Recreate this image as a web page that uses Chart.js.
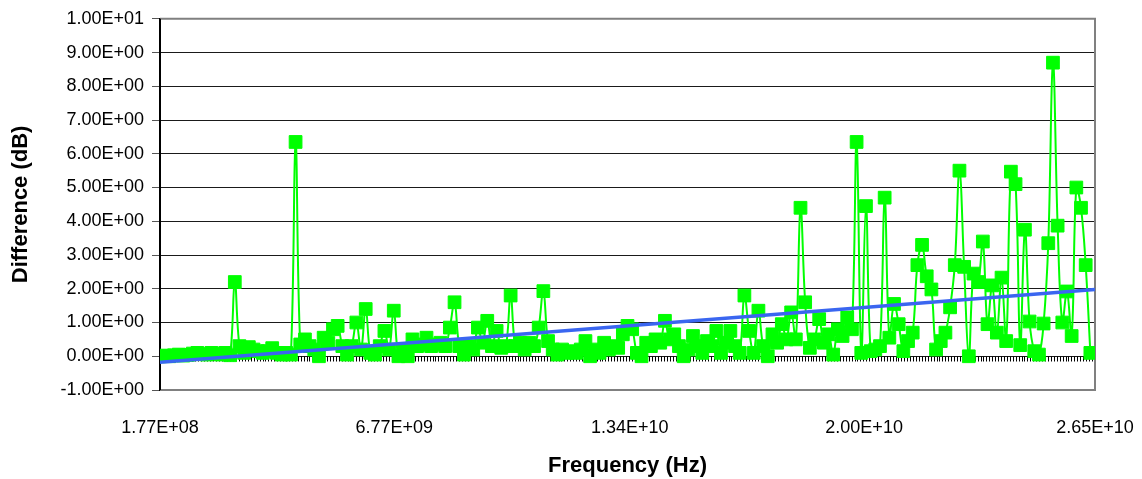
<!DOCTYPE html>
<html>
<head>
<meta charset="utf-8">
<script src="https://cdn.jsdelivr.net/npm/chart.js@4.4.1/dist/chart.umd.min.js"></script>
<style>
  html, body { margin: 0; padding: 0; background: #fff; }
  #wrap { width: 1142px; height: 479px; position: relative; }
</style>
</head>
<body>
<div id="wrap"><canvas id="chart"></canvas></div>
<script>
// sweep grid of the measurement (Hz)
const sweepStartHz = 1.77e8;
const sweepStepHz = 1.3162e8;

// difference per sweep point (dB)
const difference = [
  0.00, 0.02, 0.00, 0.03, 0.05, 0.02, 0.04, 0.08, 0.10, 0.06,
  0.05, 0.10, 0.08, 0.05, 0.10, 0.03, 2.20, 0.30, 0.10, 0.27,
  0.20, 0.15, 0.10, 0.15, 0.24, 0.10, 0.05, 0.10, 0.05, 6.35,
  0.35, 0.50, 0.30, 0.20, 0.00, 0.55, 0.40, 0.80, 0.90, 0.30,
  0.05, 0.30, 1.00, 0.20, 1.40, 0.10, 0.05, 0.30, 0.75, 0.20,
  1.35, 0.00, 0.20, 0.00, 0.50, 0.30, 0.35, 0.55, 0.30, 0.35,
  0.40, 0.30, 0.85, 1.60, 0.30, 0.05, 0.30, 0.20, 0.85, 0.40,
  1.05, 0.30, 0.75, 0.25, 0.30, 1.80, 0.30, 0.40, 0.20, 0.40,
  0.30, 0.85, 1.93, 0.45, 0.20, 0.05, 0.20, 0.10, 0.15, 0.10,
  0.20, 0.45, 0.00, 0.20, 0.10, 0.40, 0.20, 0.30, 0.25, 0.65,
  0.90, 0.80, 0.10, 0.00, 0.40, 0.30, 0.50, 0.40, 1.05, 0.50,
  0.65, 0.30, 0.00, 0.20, 0.60, 0.30, 0.10, 0.45, 0.30, 0.75,
  0.10, 0.40, 0.75, 0.30, 0.10, 1.80, 0.75, 0.10, 1.35, 0.30,
  0.00, 0.65, 0.40, 0.95, 0.50, 1.30, 0.50, 4.40, 1.60, 0.25,
  0.50, 1.10, 0.40, 0.65, 0.05, 0.80, 0.60, 1.15, 0.80, 6.35,
  0.10, 4.45, 0.15, 0.20, 0.30, 4.70, 0.55, 1.55, 0.95, 0.15,
  0.45, 0.70, 2.70, 3.30, 2.37, 1.98, 0.20, 0.45, 0.70, 1.45,
  2.70, 5.50, 2.65, 0.00, 2.45, 2.20, 3.40, 0.95, 2.10, 0.70,
  2.33, 0.45, 5.47, 5.10, 0.33, 3.75, 1.03, 0.15, 0.05, 0.97,
  3.35, 8.70, 3.87, 1.00, 1.92, 0.60, 5.00, 4.40, 2.70, 0.10
];

// linear trend line end points
const trendFreq = [1.77e8, 2.65e10];
const trendValue = [-0.18, 1.98];

// axis ticks
const xTickValues = [1.77e8, 6.77e9, 1.34e10, 2.00e10, 2.65e10];
const xTickLabels = ['1.77E+08', '6.77E+09', '1.34E+10', '2.00E+10', '2.65E+10'];
const minorTickStepHz = 8.25e7;

const FONT = "'Liberation Sans', Arial, sans-serif";

function sci(v) {
  const [m, e] = v.toExponential(2).split('e');
  const n = parseInt(e, 10);
  return m + 'E' + (n < 0 ? '-' : '+') + String(Math.abs(n)).padStart(2, '0');
}

const points = difference.map((d, i) => ({ x: sweepStartHz + i * sweepStepHz, y: d }));
const trend = trendFreq.map((f, i) => ({ x: f, y: trendValue[i] }));

// plot frame + minor ticks along the zero line
const frame = {
  id: 'frame',
  beforeDatasetsDraw(chart) {
    const { ctx, chartArea: a, scales: { x, y } } = chart;
    ctx.save();
    const y0 = Math.round(y.getPixelForValue(0)) + 0.5;
    ctx.strokeStyle = '#000';
    ctx.lineWidth = 1;
    ctx.beginPath();
    for (let f = x.min; f <= x.max; f += minorTickStepHz) {
      const px = Math.round(x.getPixelForValue(f)) + 0.5;
      ctx.moveTo(px, y0);
      ctx.lineTo(px, y0 + 5);
    }
    ctx.stroke();
    ctx.strokeStyle = '#808080';
    ctx.lineWidth = 2;
    ctx.beginPath();
    ctx.moveTo(a.left, a.top);
    ctx.lineTo(a.right, a.top);
    ctx.lineTo(a.right, a.bottom);
    ctx.lineTo(a.left, a.bottom);
    ctx.stroke();
    ctx.strokeStyle = '#000';
    ctx.beginPath();
    ctx.moveTo(a.left, a.top);
    ctx.lineTo(a.left, a.bottom);
    ctx.stroke();
    ctx.restore();
  }
};

new Chart(document.getElementById('chart'), {
  type: 'scatter',
  data: {
    datasets: [
      {
        label: 'Difference',
        data: points,
        showLine: true,
        tension: 0.4,
        borderColor: '#00ff00',
        borderWidth: 2,
        pointStyle: 'rect',
        pointRadius: 9,
        pointBackgroundColor: '#00ff00',
        pointBorderColor: '#00ff00',
        pointBorderWidth: 1,
        order: 1
      },
      {
        label: 'Trend',
        data: trend,
        showLine: true,
        borderColor: '#3a66f0',
        borderWidth: 3.5,
        pointRadius: 0,
        order: 0
      }
    ]
  },
  options: {
    responsive: true,
    maintainAspectRatio: false,
    animation: false,
    layout: { padding: { top: 18, right: 47, bottom: 0, left: 0 } },
    plugins: {
      legend: { display: false },
      tooltip: { enabled: false }
    },
    scales: {
      x: {
        type: 'linear',
        min: 1.77e8,
        max: 2.65e10,
        afterBuildTicks: (axis) => {
          axis.ticks = xTickValues.map((v) => ({ value: v }));
        },
        afterFit: (scale) => {
          scale.height = 89;
          scale.paddingLeft = 0;
          scale.paddingRight = 0;
        },
        grid: { display: false, drawTicks: false },
        border: { display: false },
        ticks: {
          autoSkip: false,
          maxRotation: 0,
          padding: 27,
          color: '#000',
          font: { family: FONT, size: 18 },
          callback: (v, i) => xTickLabels[i]
        },
        title: {
          display: true,
          text: 'Frequency (Hz)',
          color: '#000',
          font: { family: FONT, size: 22, weight: 'bold' },
          padding: { top: 0, bottom: 0 }
        }
      },
      y: {
        min: -1,
        max: 10,
        afterFit: (scale) => { scale.width = 160; },
        grid: {
          color: '#1a1a1a',
          lineWidth: 1,
          drawTicks: true,
          tickLength: 8,
          tickColor: '#555'
        },
        border: { display: true, color: '#000', width: 2 },
        ticks: {
          stepSize: 1,
          padding: 8,
          color: '#000',
          font: { family: FONT, size: 18 },
          callback: (v) => sci(v)
        },
        title: {
          display: true,
          text: 'Difference (dB)',
          color: '#000',
          font: { family: FONT, size: 22, weight: 'bold' },
          padding: { top: 8, bottom: 0 }
        }
      }
    }
  },
  plugins: [frame]
});
</script>
</body>
</html>
